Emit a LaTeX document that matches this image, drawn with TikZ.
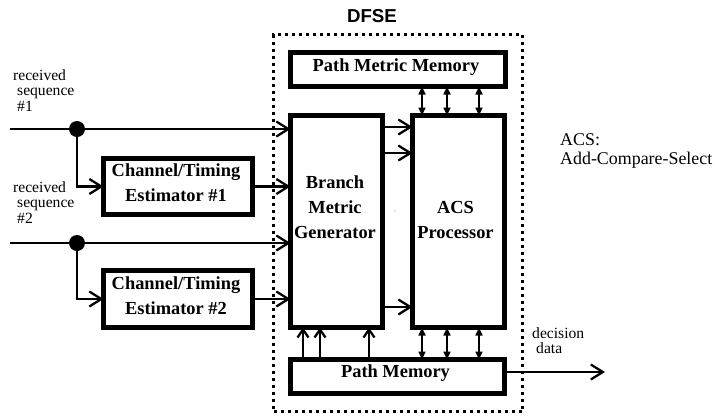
\documentclass[tikz,border=0pt]{standalone}
\usepackage{fontspec}
\setmainfont{Liberation Serif}
\newfontfamily\sansfam{Liberation Sans}
\usetikzlibrary{arrows.meta}
\tikzset{
  blk/.style={draw, line width=5.5pt, rectangle, inner sep=0pt, outer sep=0pt, fill=white},
  btxt/.style={font=\bfseries\fontsize{18.4}{25}\selectfont, align=center, inner sep=0pt},
  rtxt/.style={font=\fontsize{15.6}{15.5}\selectfont, align=left, inner sep=0pt, anchor=west},
  conn/.style={line width=2.3pt, -{Straight Barb[length=12pt,width=15pt,line width=2.3pt]}},
  upconn/.style={line width=2.3pt, -{Straight Barb[length=8pt,width=11pt,line width=2.3pt]}},
  dbl/.style={line width=1.6pt, {Triangle[length=8pt,width=7pt]}-{Triangle[length=8pt,width=7pt]}},
  junction/.style={circle, fill=black, minimum size=16pt, inner sep=0pt}
}
\begin{document}
\begin{tikzpicture}[x=1pt,y=-1pt]
\useasboundingbox (0,0) rectangle (715,416);
% DFSE frame
\node[draw, line width=3pt, dash pattern=on 3pt off 4pt, rectangle, inner sep=0pt,
  minimum width=249pt, minimum height=377pt] (frame) at (398,223) {};
\node[font=\sansfam\bfseries\fontsize{18.7}{20}\selectfont, inner sep=0pt] (dfse) at (372,16.5) {DFSE};
% blocks
\node[blk, minimum width=215pt, minimum height=34pt] (pmm) at (398,69.5) {};
\node[btxt] (pmmT) at (396,67.5) {Path Metric Memory};
\node[blk, minimum width=92pt, minimum height=212pt] (bmg) at (336.5,221.5) {};
\node[btxt] (bmgT) at (335,207) {Branch\\Metric\\Generator};
\node[blk, minimum width=92pt, minimum height=212pt] (acs) at (458.5,221.5) {};
\node[btxt] (acsT) at (455.5,219.5) {ACS\\Processor};
\node[blk, minimum width=214pt, minimum height=34pt] (pm) at (397.5,376.5) {};
\node[btxt] (pmT) at (395.5,373) {Path Memory};
\node[blk, minimum width=149pt, minimum height=56pt] (cte1) at (178,186.5) {};
\node[btxt] (cte1T) at (176,183) {Channel/Timing\\Estimator \#1};
\node[blk, minimum width=149pt, minimum height=57pt] (cte2) at (178,299) {};
\node[btxt] (cte2T) at (176,295.5) {Channel/Timing\\Estimator \#2};
\node[font=\fontsize{5}{5}\selectfont, inner sep=0pt] (dots) at (395,211) {:};
% labels
\node[rtxt] (rs1) at (13,90.5) {received\\\hspace{4pt}sequence\\\hspace{4pt}\#1};
\node[rtxt] (rs2) at (13,202.5) {received\\\hspace{4pt}sequence\\\hspace{4pt}\#2};
\node[rtxt] (dd) at (532,340.5) {decision\\\hspace{4pt}data};
\node[font=\fontsize{17.9}{19}\selectfont, align=left, inner sep=0pt, anchor=west] (acsnote) at (560,151) {ACS:\\Add-Compare-Select};
% inputs
\coordinate (s1) at (10,129);
\coordinate (s2) at (10,243);
\node[junction] (d1) at (77,129) {};
\node[junction] (d2) at (77,243) {};
\draw[conn] (s1) -- (bmg.west |- s1);
\draw[conn] (d1.center) |- (cte1.west);
\draw[conn] (cte1.east) -- (bmg.west |- cte1.east);
\draw[conn] (s2) -- (bmg.west |- s2);
\draw[conn] (d2.center) |- (cte2.west);
\draw[conn] (cte2.east) -- (bmg.west |- cte2.east);
% BMG -> ACS
\draw[conn] ([yshift=-11.5pt]bmg.north east) -- ([yshift=-11.5pt]acs.north west);
\draw[conn] ([yshift=-37.5pt]bmg.north east) -- ([yshift=-37.5pt]acs.north west);
\draw[conn] ([yshift=20.5pt]bmg.south east) -- ([yshift=20.5pt]acs.south west);
% PMM <-> ACS
\foreach \dx in {9.5,34.5,66.5}{
  \draw[dbl] ([xshift=\dx pt]acs.north west |- pmm.south) -- ([xshift=\dx pt]acs.north west);
  \draw[dbl] ([xshift=\dx pt]acs.south west) -- ([xshift=\dx pt]acs.south west |- pm.north);
}
% PM -> BMG
\foreach \dx in {12.5,29.5,78.5}{
  \draw[upconn] ([xshift=\dx pt]bmg.south west |- pm.north) -- ([xshift=\dx pt]bmg.south west);
}
% output
\coordinate (out) at (605,372);
\draw[conn] (pm.east |- out) -- (out);
\end{tikzpicture}
\end{document}
